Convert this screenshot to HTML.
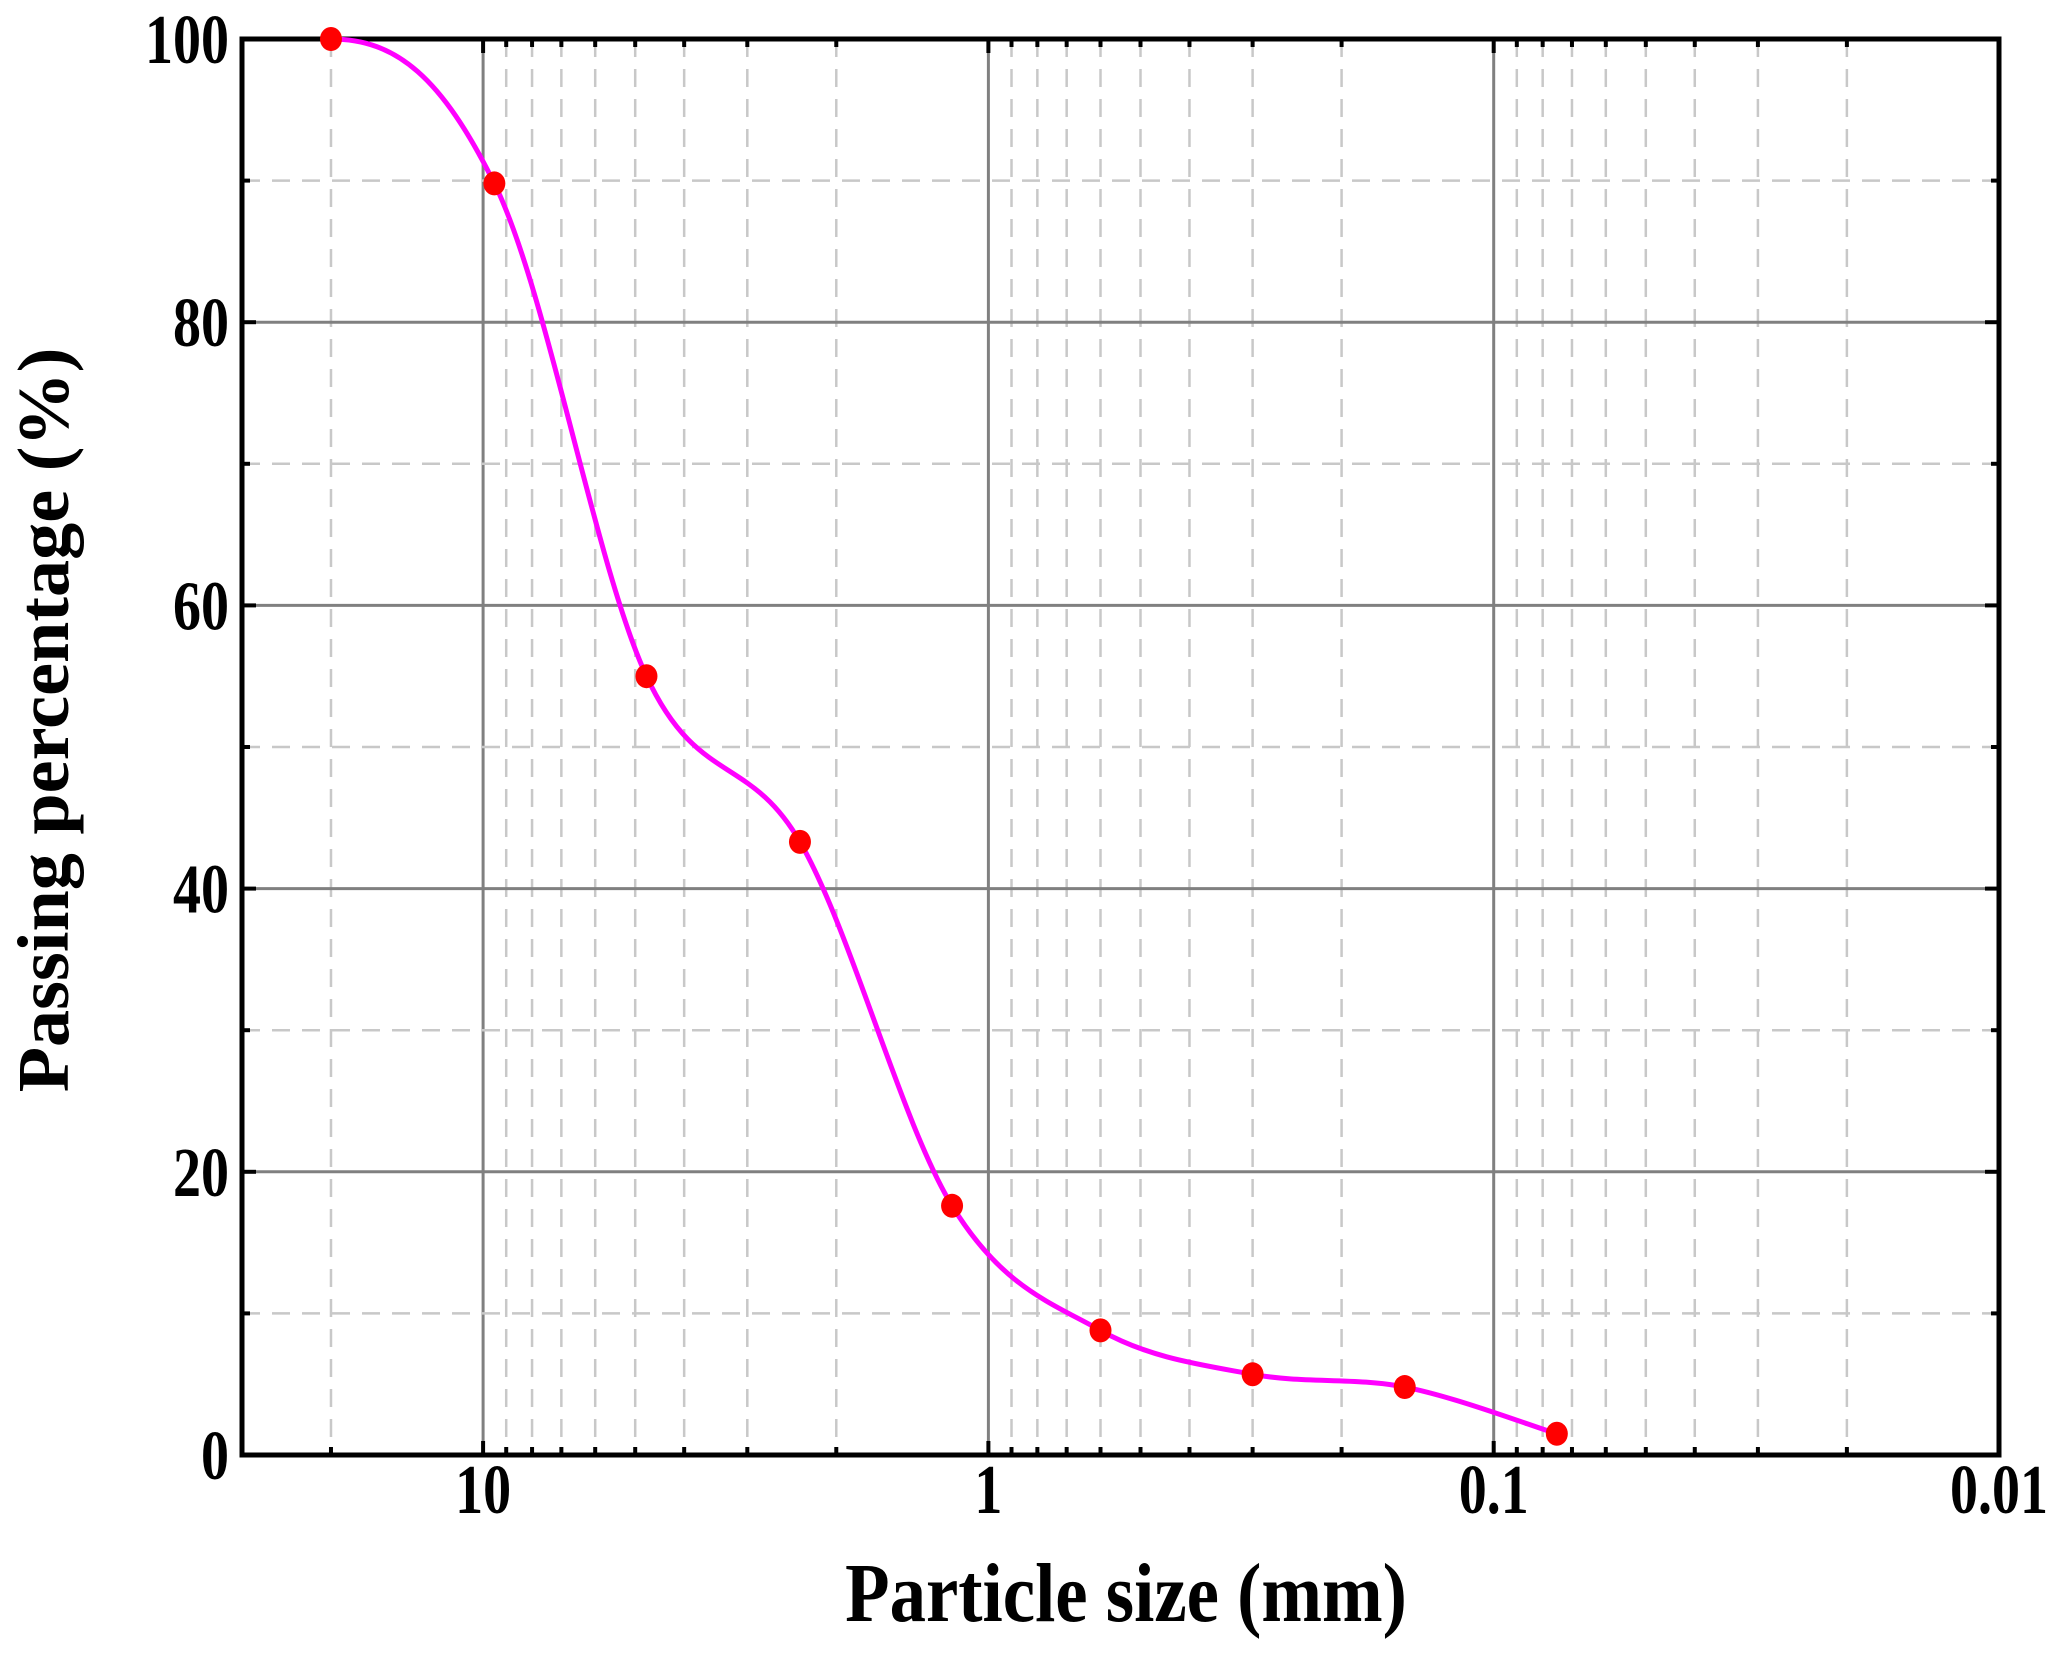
<!DOCTYPE html>
<html><head><meta charset="utf-8">
<style>
html,body{margin:0;padding:0;background:#fff;}
svg{display:block;}
text{font-family:"Liberation Serif",serif;font-weight:bold;fill:#000;}
</style></head>
<body>
<svg id="chart" width="2067" height="1654" viewBox="0 0 2067 1654" xmlns="http://www.w3.org/2000/svg">
<g id="grid"></g>
<g id="axes"></g>
<g id="series"></g>
<text transform="translate(1126,1621) scale(1.04,1.2)" font-size="70" text-anchor="middle">Particle size (mm)</text>
<text transform="translate(68,720) rotate(-90) scale(1.06,1.04)" font-size="70" text-anchor="middle">Passing percentage (%)</text>
</svg>
<script>
const sieveSizes = [20, 9.5, 4.75, 2.36, 1.18, 0.6, 0.3, 0.15, 0.075];
const passingPct = [100, 89.8, 55, 43.3, 17.6, 8.8, 5.7, 4.8, 1.5];
const xTickValues = [10, 1, 0.1, 0.01];
const xTickLabels = ["10", "1", "0.1", "0.01"];
const yTickValues = [0, 20, 40, 60, 80, 100];
const yTickLabels = ["0", "20", "40", "60", "80", "100"];

const L=242, R=1999, T=39, B=1455;
const xMax=30, xMin=0.01;
const lx = v => L + (Math.log10(xMax)-Math.log10(v))/(Math.log10(xMax)-Math.log10(xMin))*(R-L);
const ly = v => B - v/100*(B-T);
const NS="http://www.w3.org/2000/svg";
function mk(tag, attrs, parent){const e=document.createElementNS(NS,tag);for(const k in attrs)e.setAttribute(k,attrs[k]);parent.appendChild(e);return e;}
const grid=document.getElementById('grid'), axes=document.getElementById('axes'), series=document.getElementById('series');

for(let d=-2; d<=1; d++){
  for(let m=1; m<=9; m++){
    const v=m*Math.pow(10,d);
    if(v>xMax+1e-9||v<xMin-1e-9) continue;
    const x=lx(v);
    const major=(m===1);
    const ln=mk('line',{x1:x,x2:x,y1:T,y2:B,stroke:major?'#808080':'#c8c8c8','stroke-width':major?3:2.5,'stroke-dasharray':major?'none':'18 12'},grid);
    
    
    const tl=major?14:8;
    const t1=mk('line',{x1:x,x2:x,y1:B,y2:B-tl,stroke:'#000','stroke-width':4},axes);
    
    
    const t2=mk('line',{x1:x,x2:x,y1:T,y2:T+tl,stroke:'#000','stroke-width':4},axes);
    
    
  }
}
for(let v=10; v<100; v+=10){
  const y=ly(v);
  const major=(v%20===0);
  const ln=mk('line',{x1:L,x2:R,y1:y,y2:y,stroke:major?'#808080':'#c8c8c8','stroke-width':major?3:2.5,'stroke-dasharray':major?'none':'18 12'},grid);
  
  
  const tl=major?14:8;
  const t1=mk('line',{x1:L,x2:L+tl,y1:y,y2:y,stroke:'#000','stroke-width':4},axes);
  
  
  const t2=mk('line',{x1:R,x2:R-tl,y1:y,y2:y,stroke:'#000','stroke-width':4},axes);
  
  
}
const frame=mk('rect',{x:L,y:T,width:R-L,height:B-T,fill:'none',stroke:'#000','stroke-width':5},axes);



xTickValues.forEach((v,i)=>{
  const t=mk('text',{transform:`translate(${lx(v)},1513) scale(1,1.25)`,'font-size':56,'text-anchor':'middle'},axes);
  t.textContent=xTickLabels[i];
  
  
});
yTickValues.forEach((v,i)=>{
  const t=mk('text',{transform:`translate(229,${ly(v)+24}) scale(1,1.25)`,'font-size':56,'text-anchor':'end'},axes);
  t.textContent=yTickLabels[i];
  
  
});

const pts=sieveSizes.map((s,i)=>[lx(s),ly(passingPct[i])]);
let d=`M${pts[0][0]},${pts[0][1]}`;
for(let i=0;i<pts.length-1;i++){
  const p0=pts[Math.max(0,i-1)],p1=pts[i],p2=pts[i+1],p3=pts[Math.min(pts.length-1,i+2)];
  let c1=[p1[0]+(p2[0]-p0[0])/6,p1[1]+(p2[1]-p0[1])/6];
  const c2=[p2[0]-(p3[0]-p1[0])/6,p2[1]-(p3[1]-p1[1])/6];
  if(i===0){c1=[p1[0]+(p2[0]-p1[0])/2.5,p1[1]];}
  d+=` C${c1[0]},${c1[1]} ${c2[0]},${c2[1]} ${p2[0]},${p2[1]}`;
}
const path=mk('path',{d:d,fill:'none',stroke:'#ff00ff','stroke-width':5},series);


pts.forEach(p=>{
  const c=mk('ellipse',{cx:p[0],cy:p[1],rx:11,ry:12,fill:'#ff0000'},series);
  
  
});
</script>
</body></html>
